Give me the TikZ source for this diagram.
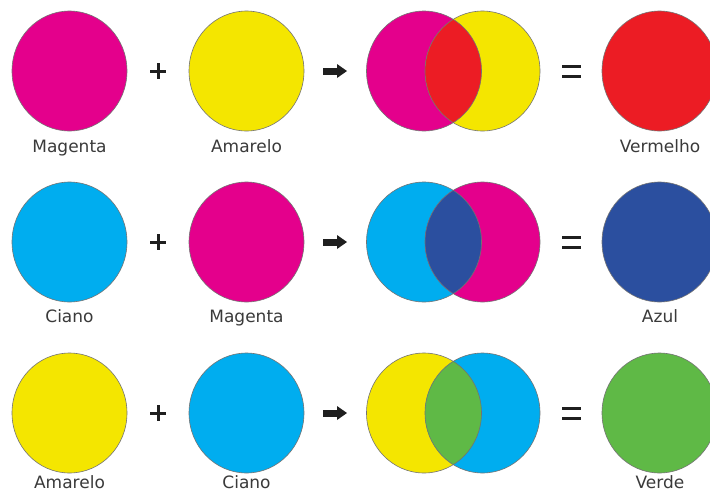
\documentclass[tikz,border=0pt]{standalone}
\usepackage{fontspec}
\setmainfont{DejaVu Sans}
\definecolor{cmag}{HTML}{E4008C}
\definecolor{cyel}{HTML}{F4E600}
\definecolor{ccya}{HTML}{00ADEF}
\definecolor{cred}{HTML}{EC1C24}
\definecolor{cblu}{HTML}{2B4F9F}
\definecolor{cgrn}{HTML}{5FB946}
\definecolor{ctxt}{HTML}{3A3A3A}
\tikzset{
  disc/.style={draw=black!55, line width=0.6pt},
  outline/.style={draw=black!55, line width=0.6pt},
  lbl/.style={font=\fontsize{17}{20}\selectfont, text=ctxt, anchor=base, inner sep=0pt},
  sym/.style={fill=black!88, draw=none},
}
\newcommand\mixrow[9]{%
  % #1 y, #2 colA, #3 colB, #4 mix, #5 labA, #6 labB, #7 labR, #8 name suffix, #9 label offset
  \path[disc, fill=#2] (69.5,#1) ellipse [x radius=57.5pt, y radius=60pt];
  \path[disc, fill=#3] (246.5,#1) ellipse [x radius=57.5pt, y radius=60pt];
  % plus
  \fill[sym] (150,#1-1.5) rectangle (166,#1+1.5);
  \fill[sym] (156.5,#1-8) rectangle (159.5,#1+8);
  % arrow
  \fill[sym] (323,#1-3.5) rectangle (338,#1+3.5);
  \fill[sym] (337,#1-7) -- (347,#1) -- (337,#1+7) -- cycle;
  % overlap
  \path[fill=#2] (424,#1) ellipse [x radius=57.5pt, y radius=60pt];
  \path[fill=#3] (482.5,#1) ellipse [x radius=57.5pt, y radius=60pt];
  \begin{scope}
    \clip (424,#1) ellipse [x radius=57.5pt, y radius=60pt];
    \fill[#4] (482.5,#1) ellipse [x radius=57.5pt, y radius=60pt];
  \end{scope}
  \path[outline] (424,#1) ellipse [x radius=57.5pt, y radius=60pt];
  \path[outline] (482.5,#1) ellipse [x radius=57.5pt, y radius=60pt];
  % equals
  \fill[sym] (562,#1-6.5) rectangle (581,#1-3.5);
  \fill[sym] (562,#1+3.5) rectangle (581,#1+6.5);
  % result
  \path[disc, fill=#4] (659.5,#1) ellipse [x radius=57.5pt, y radius=60pt];
  % labels
  \node[lbl] (la#8) at (69.5,#1+#9) {#5};
  \node[lbl] (lb#8) at (246.5,#1+#9) {#6};
  \node[lbl] (lr#8) at (660,#1+#9) {#7};
}
\begin{document}
\begin{tikzpicture}[x=1pt,y=-1pt]
\useasboundingbox (0,0) rectangle (710,493);
\clip (0,0) rectangle (710,493);
\fill[white] (0,0) rectangle (710,493);
\mixrow{71}{cmag}{cyel}{cred}{Magenta}{Amarelo}{Vermelho}{one}{81}
\mixrow{242}{ccya}{cmag}{cblu}{Ciano}{Magenta}{Azul}{two}{80}
\mixrow{413}{cyel}{ccya}{cgrn}{Amarelo}{Ciano}{Verde}{three}{75}
\end{tikzpicture}
\end{document}
